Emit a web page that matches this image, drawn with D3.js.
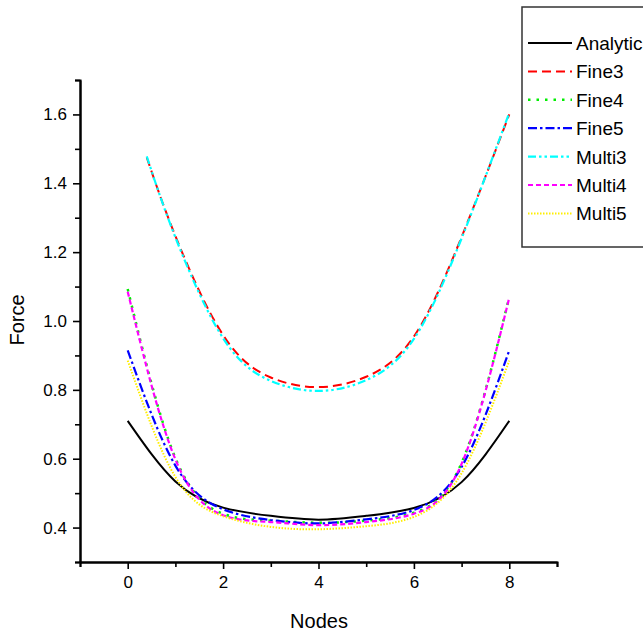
<!DOCTYPE html>
<html>
<head>
<meta charset="utf-8">
<script src="https://cdn.jsdelivr.net/npm/d3@7"></script>
<style>
  body { margin: 0; background: #fff; }
  svg { display: block; font-family: 'Liberation Sans', Arial, sans-serif; }
</style>
</head>
<body>
<svg></svg>
<script>
let SVG = d3.select('svg').attr('width', 643).attr('height', 634);

// --- data
const NODES = [0, 1, 2, 3, 4, 5, 6, 7, 8];
const NODES_3 = [0.4, 1, 2, 3, 4, 5, 6, 7, 8]; // 3-level curves start a bit later

const ANALYTIC = [0.71, 0.534, 0.458, 0.434, 0.423, 0.434, 0.457, 0.532, 0.71];
const FINE3 = [1.475, 1.247, 0.959, 0.836, 0.808, 0.838, 0.955, 1.244, 1.6];
const FINE4 = [1.093, 0.602, 0.44, 0.42, 0.414, 0.42, 0.443, 0.588, 1.07];
const FINE5 = [0.915, 0.58, 0.453, 0.422, 0.412, 0.424, 0.451, 0.576, 0.915];
const MULTI3 = [1.478, 1.243, 0.95, 0.826, 0.797, 0.828, 0.948, 1.24, 1.605];
const MULTI4 = [1.085, 0.598, 0.436, 0.416, 0.407, 0.416, 0.44, 0.585, 1.068];
const MULTI5 = [0.885, 0.547, 0.433, 0.402, 0.395, 0.404, 0.431, 0.558, 0.885];

const X_MAJOR = [0, 2, 4, 6, 8];
const X_MINOR = [-1, 1, 3, 5, 7, 9];
const Y_MAJOR = [0.4, 0.6, 0.8, 1.0, 1.2, 1.4, 1.6];
const Y_MINOR = [0.3, 0.5, 0.7, 0.9, 1.1, 1.3, 1.5, 1.7];

// series table built from the arrays above
const SERIES = [
  { name: 'Analytic', x: NODES, y: ANALYTIC, color: '#000000', dash: null, w: 2 },
  { name: 'Fine3', x: NODES_3, y: FINE3, color: '#ff0000', dash: '9,5', w: 2 },
  { name: 'Fine4', x: NODES, y: FINE4, color: '#00ee00', dash: '2.5,6', w: 2.5 },
  { name: 'Fine5', x: NODES, y: FINE5, color: '#0000ff', dash: '9,3,2.5,3', w: 2.2 },
  { name: 'Multi3', x: NODES_3, y: MULTI3, color: '#00ffff', dash: '8,3,2.5,3,2.5,3', w: 2.2 },
  { name: 'Multi4', x: NODES, y: MULTI4, color: '#ff00ff', dash: '5,3', w: 2.2 },
  { name: 'Multi5', x: NODES, y: MULTI5, color: '#ffee00', dash: '1.5,1.5', w: 2 }
];

// --- scales
let xScale = d3.scaleLinear().domain([-1, 9]).range([80, 557]);
let yScale = d3.scaleLinear().domain([0.3, 1.7]).range([562, 80]);

// --- axes: minor ticks without labels, then major ticks with labels
let xMinorG = SVG.append('g').attr('transform', 'translate(0,562)');
xMinorG.call(d3.axisBottom(xScale).tickValues(X_MINOR).tickSize(5).tickFormat(''));
let xMajorG = SVG.append('g').attr('transform', 'translate(0,562)');
xMajorG.call(d3.axisBottom(xScale).tickValues(X_MAJOR).tickSize(7).tickSizeOuter(0).tickPadding(7).tickFormat(d3.format('d')));

let yMinorG = SVG.append('g').attr('transform', 'translate(80,0)');
yMinorG.call(d3.axisLeft(yScale).tickValues(Y_MINOR).tickSize(5).tickFormat(''));
let yMajorG = SVG.append('g').attr('transform', 'translate(80,0)');
yMajorG.call(d3.axisLeft(yScale).tickValues(Y_MAJOR).tickSize(7).tickSizeOuter(0).tickPadding(6).tickFormat(d3.format('.1f')));

SVG.selectAll('.domain').attr('stroke', '#000').attr('stroke-width', 2);
SVG.selectAll('.tick line').attr('stroke', '#000').attr('stroke-width', 1.6);
SVG.selectAll('.tick text')
  .attr('fill', '#000')
  .style('font-family', "'Liberation Sans', Arial, sans-serif")
  .style('font-size', '17px');

// axis titles
SVG.append('text')
  .attr('x', 319).attr('y', 628)
  .attr('text-anchor', 'middle')
  .style('font-size', '20px')
  .text('Nodes');

SVG.append('text')
  .attr('transform', 'translate(24,320) rotate(-90)')
  .attr('text-anchor', 'middle')
  .style('font-size', '20px')
  .text('Force');

// --- curves
let line = d3.line()
  .x(d => xScale(d[0]))
  .y(d => yScale(d[1]))
  .curve(d3.curveNatural);

SERIES.forEach(s => {
  SVG.append('path')
    .datum(s.x.map((x, i) => [x, s.y[i]]))
    .attr('fill', 'none')
    .attr('stroke', s.color)
    .attr('stroke-width', s.w)
    .attr('stroke-dasharray', s.dash)
    .attr('d', line);
});

// --- legend
let legendG = SVG.append('g').attr('transform', 'translate(522,7)');
legendG.append('rect')
  .attr('width', 140).attr('height', 240)
  .attr('fill', '#fff')
  .attr('stroke', '#333').attr('stroke-width', 1.5);

SERIES.forEach((s, i) => {
  let y = 36 + i * 28.4;
  legendG.append('line')
    .attr('x1', 6).attr('x2', 50)
    .attr('y1', y).attr('y2', y)
    .attr('stroke', s.color)
    .attr('stroke-width', s.w)
    .attr('stroke-dasharray', s.dash);
  legendG.append('text')
    .attr('x', 54).attr('y', y + 7)
    .style('font-size', '19px')
    .text(s.name);
});
</script>
</body>
</html>
